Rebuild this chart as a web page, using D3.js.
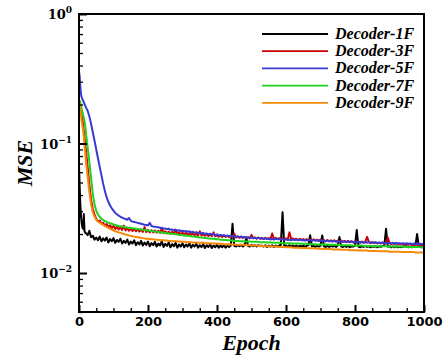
<!DOCTYPE html>
<html>
<head>
<meta charset="utf-8">
<script src="https://cdn.jsdelivr.net/npm/d3@7"></script>
<style>
  html, body { margin: 0; padding: 0; background: #fff; }
  svg { display: block; }
</style>
</head>
<body>
<script>
// Training epochs at which the loss was recorded
const epochs = [...d3.range(0, 20, 2), ...d3.range(20, 1001, 5)];

// Validation MSE per decoder depth
const mse1F = [
  .068,.046,.033,.027,.024,.0225,.022,.0285,.021,.0205,
  .0203,.0196,.0212,.0189,.0194,.0181,.0188,.0179,.0191,.0176,
  .0185,.0178,.0188,.0172,.0183,.0176,.0186,.0171,.0180,.0174,
  .0184,.0169,.0177,.0171,.0181,.0166,.0175,.0169,.0179,.0164,
  .0173,.0166,.0177,.0163,.0172,.0165,.0175,.0161,.0170,.0164,
  .0174,.0160,.0169,.0163,.0176,.0159,.0168,.0162,.0172,.0158,
  .0167,.0161,.0171,.0157,.0166,.0160,.0170,.0158,.0166,.0160,
  .0169,.0157,.0165,.0160,.0168,.0157,.0164,.0159,.0167,.0156,
  .0164,.0159,.0166,.0156,.0163,.0158,.0165,.0157,.0163,.0158,
  .0164,.0157,.0162,.0159,.0163,.0240,.0162,.0160,.0164,.0161,
  .0165,.0160,.0164,.0188,.0162,.0160,.0165,.0161,.0164,.0160,
  .0164,.0161,.0163,.0160,.0164,.0159,.0163,.0160,.0164,.0159,
  .0163,.0160,.0163,.0165,.0295,.0160,.0163,.0159,.0164,.0160,
  .0163,.0160,.0163,.0159,.0162,.0160,.0163,.0159,.0162,.0164,
  .0196,.0161,.0162,.0159,.0162,.0160,.0163,.0195,.0161,.0159,
  .0162,.0159,.0162,.0160,.0162,.0159,.0163,.0190,.0160,.0159,
  .0162,.0159,.0162,.0158,.0161,.0160,.0163,.0215,.0160,.0158,
  .0161,.0159,.0162,.0159,.0161,.0158,.0161,.0159,.0161,.0158,
  .0161,.0159,.0162,.0163,.0220,.0160,.0161,.0158,.0161,.0158,
  .0161,.0158,.0160,.0158,.0161,.0159,.0161,.0158,.0160,.0158,
  .0161,.0163,.0200,.0160,.0161,.0158,.0160
];
const mse3F = [
  .200,.212,.195,.178,.163,.152,.140,.126,.112,.100,
  .089,.066,.048,.037,.0312,.0283,.0262,.0250,.0254,.0240,
  .0244,.0232,.0239,.0226,.0234,.0222,.0231,.0219,.0228,.0217,
  .0226,.0215,.0232,.0213,.0222,.0212,.0221,.0211,.0219,.0210,
  .0218,.0209,.0217,.0208,.0226,.0207,.0215,.0206,.0214,.0206,
  .0213,.0205,.0212,.0204,.0222,.0203,.0210,.0202,.0209,.0201,
  .0208,.0201,.0216,.0200,.0206,.0199,.0205,.0198,.0204,.0198,
  .0203,.0197,.0202,.0196,.0201,.0195,.0210,.0195,.0199,.0194,
  .0199,.0193,.0198,.0193,.0206,.0192,.0196,.0191,.0195,.0190,
  .0195,.0190,.0194,.0189,.0193,.0189,.0201,.0188,.0191,.0187,
  .0191,.0187,.0190,.0186,.0189,.0185,.0197,.0185,.0188,.0184,
  .0188,.0184,.0187,.0183,.0187,.0183,.0186,.0182,.0202,.0183,
  .0187,.0183,.0186,.0182,.0186,.0182,.0185,.0181,.0206,.0182,
  .0185,.0181,.0184,.0180,.0184,.0180,.0183,.0179,.0183,.0179,
  .0182,.0178,.0182,.0178,.0181,.0177,.0181,.0177,.0180,.0176,
  .0180,.0176,.0179,.0175,.0179,.0175,.0178,.0174,.0178,.0174,
  .0177,.0173,.0177,.0173,.0176,.0172,.0176,.0172,.0175,.0171,
  .0175,.0171,.0174,.0190,.0174,.0170,.0173,.0170,.0173,.0169,
  .0172,.0169,.0172,.0168,.0171,.0188,.0171,.0167,.0170,.0167,
  .0170,.0166,.0169,.0166,.0169,.0165,.0168,.0165,.0168,.0164,
  .0167,.0164,.0167,.0163,.0166,.0163,.0165
];
const mse5F = [
  .360,.330,.272,.238,.226,.220,.214,.208,.201,.196,
  .190,.179,.162,.142,.122,.105,.090,.077,.066,.057,
  .049,.043,.0385,.0355,.0332,.0316,.0303,.0291,.0284,.0277,
  .0272,.0268,.0264,.0261,.0258,.0266,.0253,.0250,.0248,.0246,
  .0244,.0242,.0240,.0238,.0236,.0235,.0233,.0244,.0231,.0229,
  .0228,.0226,.0226,.0223,.0224,.0220,.0221,.0218,.0220,.0216,
  .0217,.0214,.0216,.0212,.0214,.0211,.0212,.0209,.0211,.0208,
  .0210,.0206,.0208,.0205,.0207,.0203,.0205,.0202,.0204,.0200,
  .0202,.0199,.0201,.0198,.0200,.0196,.0199,.0195,.0197,.0195,
  .0196,.0193,.0195,.0192,.0194,.0191,.0193,.0190,.0192,.0190,
  .0191,.0188,.0190,.0187,.0189,.0186,.0188,.0186,.0187,.0185,
  .0187,.0184,.0186,.0183,.0185,.0183,.0184,.0182,.0184,.0181,
  .0184,.0182,.0183,.0181,.0183,.0180,.0182,.0180,.0181,.0179,
  .0182,.0180,.0181,.0179,.0181,.0179,.0180,.0178,.0180,.0178,
  .0180,.0178,.0180,.0178,.0179,.0177,.0179,.0177,.0178,.0176,
  .0178,.0176,.0177,.0175,.0177,.0175,.0176,.0174,.0176,.0174,
  .0175,.0174,.0175,.0173,.0175,.0173,.0174,.0172,.0174,.0172,
  .0174,.0172,.0173,.0171,.0173,.0171,.0173,.0171,.0172,.0170,
  .0172,.0170,.0172,.0170,.0171,.0169,.0171,.0169,.0171,.0169,
  .0171,.0169,.0170,.0168,.0170,.0168,.0170,.0168,.0169,.0167,
  .0169,.0167,.0169,.0167,.0168,.0167,.0168
];
const mse7F = [
  .205,.214,.208,.196,.184,.174,.166,.158,.148,.136,
  .122,.094,.072,.054,.041,.034,.0302,.0283,.0271,.0262,
  .0256,.0252,.0248,.0245,.0242,.0240,.0237,.0235,.0233,.0231,
  .0230,.0229,.0227,.0226,.0225,.0224,.0223,.0222,.0221,.0220,
  .0219,.0218,.0217,.0216,.0215,.0214,.0213,.0212,.0211,.0210,
  .0209,.0208,.0207,.0206,.0206,.0205,.0204,.0203,.0202,.0202,
  .0201,.0200,.0199,.0198,.0197,.0197,.0196,.0195,.0194,.0194,
  .0193,.0192,.0191,.0191,.0190,.0189,.0188,.0188,.0187,.0186,
  .0186,.0185,.0185,.0184,.0184,.0183,.0182,.0182,.0181,.0181,
  .0180,.0180,.0179,.0179,.0178,.0178,.0177,.0177,.0177,.0176,
  .0176,.0176,.0175,.0175,.0175,.0175,.0174,.0174,.0174,.0174,
  .0174,.0173,.0173,.0173,.0173,.0172,.0172,.0172,.0172,.0171,
  .0171,.0171,.0171,.0171,.0170,.0170,.0170,.0170,.0170,.0169,
  .0169,.0169,.0169,.0169,.0168,.0168,.0168,.0168,.0168,.0167,
  .0167,.0167,.0167,.0167,.0166,.0166,.0166,.0166,.0166,.0166,
  .0166,.0165,.0165,.0165,.0165,.0165,.0165,.0164,.0164,.0164,
  .0164,.0164,.0164,.0164,.0163,.0163,.0163,.0163,.0163,.0163,
  .0163,.0162,.0162,.0162,.0162,.0162,.0162,.0162,.0161,.0161,
  .0161,.0161,.0161,.0161,.0161,.0161,.0160,.0160,.0160,.0160,
  .0160,.0160,.0160,.0160,.0159,.0159,.0159,.0159,.0159,.0159,
  .0159,.0159,.0159,.0159,.0158,.0158,.0158
];
const mse9F = [
  .210,.200,.182,.163,.147,.136,.126,.112,.097,.085,
  .073,.056,.042,.034,.0295,.0272,.0258,.0250,.0245,.0240,
  .0235,.0231,.0227,.0223,.0219,.0216,.0213,.0210,.0208,.0206,
  .0204,.0202,.0200,.0198,.0197,.0195,.0194,.0192,.0191,.0190,
  .0189,.0188,.0187,.0186,.0185,.0184,.0184,.0183,.0182,.0182,
  .0181,.0181,.0180,.0180,.0179,.0179,.0178,.0178,.0177,.0177,
  .0176,.0176,.0176,.0175,.0175,.0175,.0174,.0174,.0174,.0173,
  .0173,.0173,.0172,.0172,.0172,.0171,.0171,.0171,.0171,.0170,
  .0170,.0170,.0170,.0169,.0169,.0169,.0169,.0168,.0168,.0168,
  .0167,.0167,.0167,.0167,.0166,.0166,.0166,.0166,.0165,.0165,
  .0165,.0165,.0164,.0164,.0164,.0164,.0163,.0163,.0163,.0163,
  .0162,.0162,.0162,.0162,.0161,.0161,.0161,.0161,.0160,.0160,
  .0160,.0160,.0159,.0159,.0159,.0159,.0158,.0158,.0158,.0158,
  .0157,.0157,.0157,.0157,.0156,.0156,.0156,.0156,.0156,.0155,
  .0155,.0155,.0155,.0155,.0154,.0154,.0154,.0154,.0153,.0153,
  .0153,.0153,.0153,.0152,.0152,.0152,.0152,.0152,.0151,.0151,
  .0151,.0151,.0151,.0150,.0150,.0150,.0150,.0150,.0149,.0149,
  .0149,.0149,.0149,.0149,.0148,.0148,.0148,.0148,.0148,.0148,
  .0147,.0147,.0147,.0147,.0147,.0147,.0146,.0146,.0146,.0146,
  .0146,.0146,.0146,.0145,.0145,.0145,.0145,.0145,.0145,.0145,
  .0145,.0144,.0144,.0144,.0144,.0144,.0144
];

const seriesNames = ["Decoder-1F", "Decoder-3F", "Decoder-5F", "Decoder-7F", "Decoder-9F"];
const seriesValues = [mse1F, mse3F, mse5F, mse7F, mse9F];

const xMajorTicks = [0, 200, 400, 600, 800, 1000];
const yMajorTicks = [1, 0.1, 0.01];
const yTickExponents = ["0", "\u22121", "\u22122"];

// Styling
const lineColors = ["#000000", "#cc0000", "#3a3ad2", "#1fd21f", "#f58a0a"];
const W = 447, H = 356;
const plot = { left: 79, right: 424, top: 14, bottom: 312 };

const svg = d3.select("body").append("svg")
  .attr("width", W).attr("height", H);

const x = d3.scaleLinear().domain([0, 1000]).range([plot.left, plot.right]);
const y = d3.scaleLog().domain([0.005, 1]).range([plot.bottom, plot.top]);

// Curves, drawn in legend order
const line = d3.line()
  .x(d => x(d[0]))
  .y(d => y(d[1]));

const curves = svg.append("g");
seriesValues.forEach((vals, i) => {
  const pts = vals.map((v, k) => [epochs[k], v]).filter(p => p[0] !== undefined);
  curves.append("path")
    .datum(pts)
    .attr("fill", "none")
    .attr("stroke", lineColors[i])
    .attr("stroke-width", 2)
    .attr("stroke-linejoin", "round")
    .attr("d", line);
});

// X axis ticks (inward)
const xMinor = d3.range(0, 1001, 50).filter(v => v % 200 !== 0);
svg.append("g")
  .attr("transform", `translate(0,${plot.bottom})`)
  .call(d3.axisBottom(x).tickValues(xMinor).tickSize(-4).tickFormat(""))
  .call(g => g.select(".domain").remove())
  .call(g => g.selectAll("line").attr("stroke-width", 1.3));

svg.append("g")
  .attr("transform", `translate(0,${plot.bottom})`)
  .call(d3.axisBottom(x).tickValues(xMajorTicks).tickSize(-7).tickPadding(5).tickFormat(d3.format("d")))
  .call(g => g.select(".domain").remove())
  .call(g => g.selectAll("line").attr("stroke-width", 2))
  .call(g => g.selectAll("text")
    .attr("font-family", "DejaVu Sans, Verdana, sans-serif")
    .attr("font-weight", "bold")
    .attr("font-size", 13)
    .attr("fill", "#000"));

// Y axis ticks (inward), log scale
const yMinor = [];
[0.001, 0.01, 0.1].forEach(dec => {
  for (let m = 2; m <= 9; m++) {
    const v = m * dec;
    if (v >= 0.005 && v < 1) yMinor.push(v);
  }
});
svg.append("g")
  .attr("transform", `translate(${plot.left},0)`)
  .call(d3.axisLeft(y).tickValues(yMinor).tickSize(-4).tickFormat(""))
  .call(g => g.select(".domain").remove())
  .call(g => g.selectAll("line").attr("stroke-width", 1.3));

svg.append("g")
  .attr("transform", `translate(${plot.left},0)`)
  .call(d3.axisLeft(y).tickValues(yMajorTicks).tickSize(-8).tickFormat(""))
  .call(g => g.select(".domain").remove())
  .call(g => g.selectAll("line").attr("stroke-width", 2));

// Power-of-ten labels
const yLabels = svg.append("g")
  .attr("font-family", "DejaVu Serif, serif")
  .attr("font-weight", "bold")
  .attr("fill", "#000");
yMajorTicks.forEach((v, i) => {
  const t = yLabels.append("text")
    .attr("x", 72)
    .attr("y", y(v) + 5)
    .attr("text-anchor", "end");
  t.append("tspan").attr("font-size", 13).text("10");
  t.append("tspan").attr("font-size", 9).attr("dy", -6).text(yTickExponents[i]);
});

// Frame
svg.append("rect")
  .attr("x", plot.left).attr("y", plot.top)
  .attr("width", plot.right - plot.left)
  .attr("height", plot.bottom - plot.top)
  .attr("fill", "none")
  .attr("stroke", "#000")
  .attr("stroke-width", 2);

// Axis titles
svg.append("text")
  .attr("x", (plot.left + plot.right) / 2)
  .attr("y", 350)
  .attr("text-anchor", "middle")
  .attr("font-family", "Liberation Serif, Times New Roman, serif")
  .attr("font-weight", "bold")
  .attr("font-style", "italic")
  .attr("font-size", 22)
  .text("Epoch");

svg.append("text")
  .attr("transform", `translate(32,${(plot.top + plot.bottom) / 2}) rotate(-90)`)
  .attr("text-anchor", "middle")
  .attr("font-family", "Liberation Serif, Times New Roman, serif")
  .attr("font-weight", "bold")
  .attr("font-style", "italic")
  .attr("font-size", 22)
  .text("MSE");

// Legend
const legend = svg.append("g");
seriesNames.forEach((name, i) => {
  const yy = 34 + i * 17.2;
  legend.append("line")
    .attr("x1", 262).attr("x2", 328)
    .attr("y1", yy).attr("y2", yy)
    .attr("stroke", lineColors[i])
    .attr("stroke-width", 1.8);
  legend.append("text")
    .attr("x", 335).attr("y", yy + 5)
    .attr("font-family", "Liberation Serif, Times New Roman, serif")
    .attr("font-weight", "bold")
    .attr("font-style", "italic")
    .attr("font-size", 16)
    .text(name);
});
</script>
</body>
</html>
